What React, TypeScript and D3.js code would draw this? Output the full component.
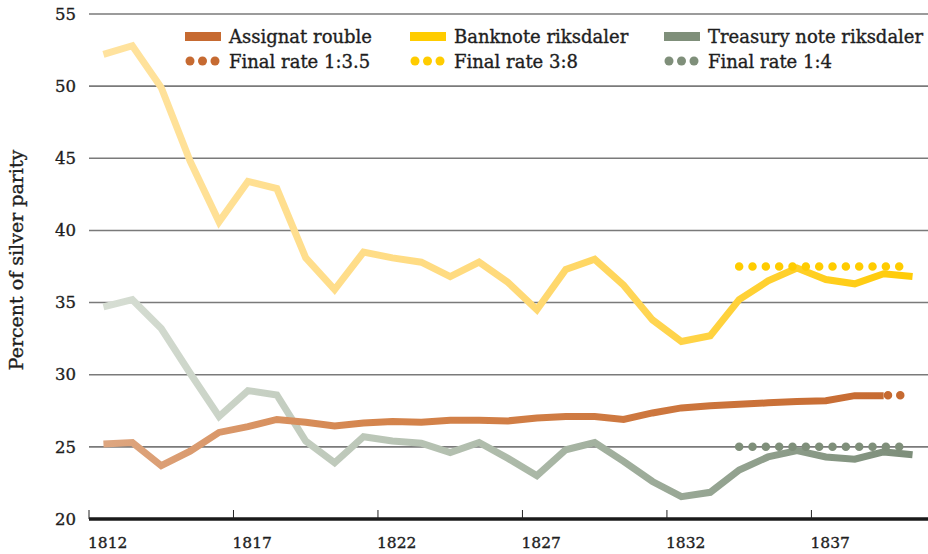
import React from "react";
import * as d3 from "d3";

const years = d3.range(1812, 1841);
const banknote = [52.2, 52.8, 49.9, 44.8, 40.6, 43.4, 42.9, 38.1, 35.9, 38.5, 38.1, 37.8, 36.8, 37.8, 36.4, 34.5, 37.3, 38.0, 36.2, 33.8, 32.3, 32.7, 35.2, 36.5, 37.4, 36.6, 36.3, 37.0, 36.8];
const assignat = [25.2, 25.3, 23.7, 24.7, 26.0, 26.4, 26.9, 26.7, 26.45, 26.65, 26.75, 26.7, 26.85, 26.85, 26.8, 27.0, 27.1, 27.1, 26.9, 27.35, 27.7, 27.85, 27.95, 28.05, 28.15, 28.2, 28.55, 28.55, null];
const treasury = [34.7, 35.2, 33.2, 30.1, 27.1, 28.9, 28.6, 25.4, 23.9, 25.7, 25.4, 25.25, 24.6, 25.3, 24.2, 23.0, 24.8, 25.3, 24.0, 22.6, 21.55, 21.85, 23.4, 24.3, 24.75, 24.3, 24.15, 24.65, 24.45];

const finalRates = [
  { label: "Final rate 1:3.5", value: 100 / 3.5, from: 1839.15, to: 1840, color: "#C66A31" },
  { label: "Final rate 3:8", value: 37.5, from: 1834, to: 1840, color: "#FFCC00" },
  { label: "Final rate 1:4", value: 25, from: 1834, to: 1840, color: "#7F8F7A" },
];
const seriesNames = ["Assignat rouble", "Banknote riksdaler", "Treasury note riksdaler"];
const seriesColors = ["#C66A31", "#FFCC00", "#7F8F7A"];
const yTicks = [20, 25, 30, 35, 40, 45, 50, 55];
const xTicks = [1812, 1817, 1822, 1827, 1832, 1837];

const W = 928, H = 554;
const FONT = "'DejaVu Serif', serif";
const TXT = "#1e1e1e";

export default function App() {
  const x = d3.scaleLinear().domain([1812, 1841]).range([89, 927]);
  const y = d3.scaleLinear().domain([20, 55]).range([519, 14]);
  const px = (yr: number) => x(yr + 0.5);
  const line = d3
    .line<[number, number | null]>()
    .defined((d) => d[1] != null)
    .x((d) => px(d[0]))
    .y((d) => y(d[1] as number));

  const series = [
    { data: banknote, grad: "gY" },
    { data: treasury, grad: "gG" },
    { data: assignat, grad: "gO" },
  ];

  const legendCols = [185, 410, 664];
  const textProps = { fontFamily: FONT, fill: TXT, stroke: TXT, strokeWidth: 0.35 };

  return (
    <svg width={W} height={H} style={{ display: "block", position: "absolute", left: 0, top: 0 }}>
      <defs>
        <linearGradient id="gY" gradientUnits="userSpaceOnUse" x1={89} x2={915} y1={0} y2={0}>
          <stop offset="0%" stopColor="#FFE3A0" />
          <stop offset="50%" stopColor="#FFDA7C" />
          <stop offset="100%" stopColor="#FFCB05" />
        </linearGradient>
        <linearGradient id="gO" gradientUnits="userSpaceOnUse" x1={89} x2={915} y1={0} y2={0}>
          <stop offset="0%" stopColor="#DEA883" />
          <stop offset="35%" stopColor="#D4844C" />
          <stop offset="100%" stopColor="#C66A31" />
        </linearGradient>
        <linearGradient id="gG" gradientUnits="userSpaceOnUse" x1={89} x2={915} y1={0} y2={0}>
          <stop offset="0%" stopColor="#D8DFD5" />
          <stop offset="50%" stopColor="#AEBBAA" />
          <stop offset="100%" stopColor="#7D8E7A" />
        </linearGradient>
      </defs>

      {/* gridlines */}
      {yTicks.slice(1).map((t) => (
        <line key={t} x1={89} x2={928} y1={y(t)} y2={y(t)} stroke="#7a7a7a" strokeWidth={1.6} />
      ))}
      {yTicks.map((t) => (
        <text key={"l" + t} x={76} y={y(t)} dy="0.35em" textAnchor="end" fontSize={16.5} {...textProps}>
          {t}
        </text>
      ))}

      {/* axis */}
      <line x1={89} x2={928} y1={519} y2={519} stroke="#1a1a1a" strokeWidth={3.5} />
      {xTicks.map((t) => (
        <g key={t}>
          <line x1={x(t)} x2={x(t)} y1={519} y2={510} stroke="#222" strokeWidth={1} />
          <text x={x(t) - 1} y={548} fontSize={15.5} {...textProps}>
            {t}
          </text>
        </g>
      ))}

      <text transform={`translate(23, 260) rotate(-90)`} textAnchor="middle" fontSize={19} {...textProps}>
        Percent of silver parity
      </text>

      {/* lines */}
      {series.map((s, i) => (
        <path
          key={i}
          d={line(years.map((yr, j) => [yr, s.data[j]]) as [number, number | null][]) || ""}
          fill="none"
          stroke={`url(#${s.grad})`}
          strokeWidth={7}
          strokeLinejoin="miter"
        />
      ))}

      {/* final rate dotted lines */}
      {finalRates.map((f, i) => {
        const x1 = px(f.from);
        const x2 = px(f.to);
        const n = Math.max(1, Math.round((x2 - x1) / 13.2));
        return (
          <line
            key={i}
            x1={x1}
            x2={x2}
            y1={y(f.value)}
            y2={y(f.value)}
            stroke={f.color}
            strokeWidth={8.5}
            strokeLinecap="round"
            strokeDasharray={`0 ${(x2 - x1) / n}`}
          />
        );
      })}

      {/* legend */}
      {seriesNames.map((n, i) => (
        <g key={n}>
          <rect x={legendCols[i]} y={32} width={36} height={9} fill={seriesColors[i]} />
          <text x={legendCols[i] + 44} y={43} fontSize={18} {...textProps}>
            {n}
          </text>
          {[0, 1, 2].map((k) => (
            <circle key={k} cx={legendCols[i] + 5 + k * 12.5} cy={61} r={4.5} fill={finalRates[i].color} />
          ))}
          <text x={legendCols[i] + 44} y={68} fontSize={18} {...textProps}>
            {finalRates[i].label}
          </text>
        </g>
      ))}
    </svg>
  );
}
